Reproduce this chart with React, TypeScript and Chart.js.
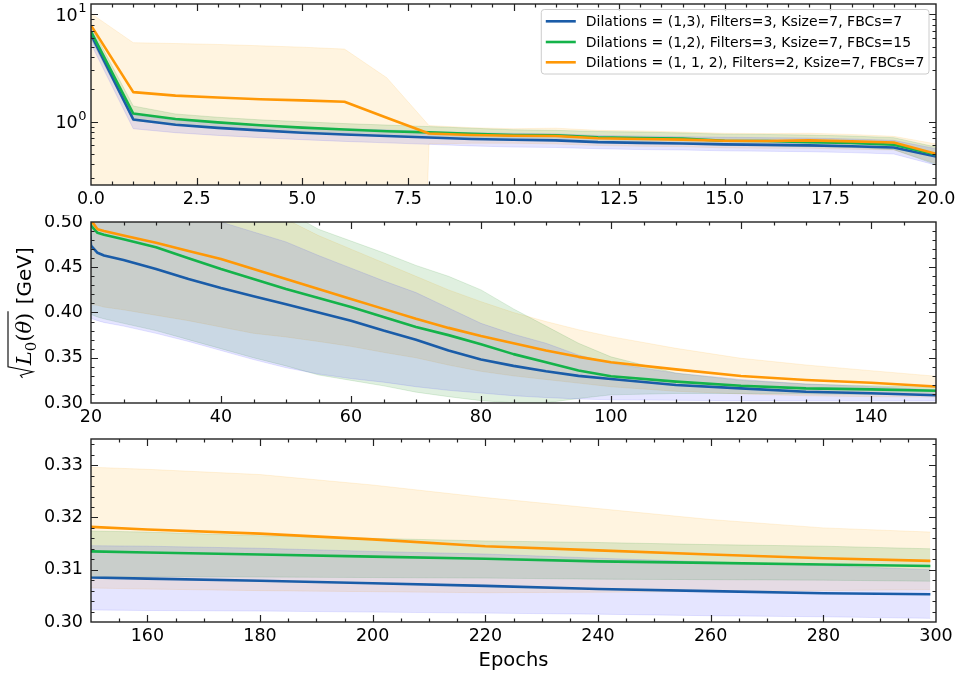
import { useEffect, useRef } from "react";
import { Chart, registerables } from "chart.js";

Chart.register(...registerables);

// Epochs at which the validation loss was recorded
const EPOCHS = [
  0, 1, 2, 3, 4, 5, 6, 7, 8, 9, 10, 11, 12, 13, 14, 15, 16, 17, 18, 19,
  20, 21, 22,
  25, 30, 35, 40, 45, 50, 55, 60, 65, 70, 75, 80, 85, 90, 95, 100,
  110, 120, 130, 140, 150,
  160, 180, 200, 220, 240, 260, 280, 299,
];

// sqrt(L0) in GeV: mean curve and upper / lower edge of the spread band per model
const BLUE_MEAN = [
  6.5, 1.05, 0.935, 0.875, 0.83, 0.79, 0.76, 0.735, 0.712, 0.69, 0.678, 0.67, 0.645, 0.635, 0.627, 0.615, 0.608, 0.602, 0.59, 0.575,
  0.474, 0.466, 0.463,
  0.458, 0.448, 0.437, 0.427, 0.418, 0.409, 0.4, 0.391, 0.38, 0.37, 0.358, 0.348, 0.341, 0.335, 0.33, 0.3265,
  0.3199, 0.3162, 0.3125, 0.3107, 0.3085,
  0.3083, 0.3079, 0.3074, 0.3069, 0.3063, 0.3059, 0.3055, 0.3053,
];
const BLUE_HI = [
  7.4, 1.16, 1.03, 0.97, 0.93, 0.89, 0.86, 0.84, 0.81, 0.79, 0.78, 0.77, 0.745, 0.735, 0.725, 0.715, 0.71, 0.705, 0.69, 0.67,
  0.56, 0.555, 0.552,
  0.545, 0.53, 0.515, 0.5, 0.489, 0.478, 0.463, 0.449, 0.435, 0.422, 0.405, 0.388, 0.376, 0.366, 0.353, 0.344,
  0.333, 0.326, 0.321, 0.318, 0.3146,
  0.3145, 0.3141, 0.3135, 0.313, 0.3122, 0.3115, 0.3108, 0.31,
];
const BLUE_LO = [
  5.3, 0.86, 0.79, 0.745, 0.71, 0.68, 0.655, 0.635, 0.615, 0.595, 0.58, 0.575, 0.56, 0.55, 0.545, 0.535, 0.53, 0.525, 0.515, 0.5,
  0.3936, 0.391, 0.389,
  0.385, 0.377, 0.368, 0.358, 0.348, 0.339, 0.332, 0.327, 0.323, 0.318, 0.314, 0.311, 0.308, 0.306, 0.3045, 0.3035,
  0.303, 0.3026, 0.3025, 0.3024, 0.3023,
  0.3022, 0.3021, 0.3019, 0.3017, 0.3015, 0.3012, 0.301, 0.3007,
];

const GREEN_MEAN = [
  6.9, 1.19, 1.06, 0.985, 0.925, 0.88, 0.845, 0.815, 0.795, 0.77, 0.75, 0.745, 0.715, 0.705, 0.695, 0.665, 0.66, 0.645, 0.635, 0.61,
  0.496, 0.488, 0.486,
  0.481, 0.472, 0.46, 0.448, 0.437, 0.426, 0.416, 0.406, 0.395, 0.384, 0.375, 0.365, 0.354, 0.345, 0.336, 0.3295,
  0.3236, 0.3191, 0.3162, 0.3151, 0.3135,
  0.3133, 0.3129, 0.3125, 0.3121, 0.3116, 0.3113, 0.311, 0.3107,
];
const GREEN_HI = [
  7.8, 1.4, 1.18, 1.1, 1.04, 1.0, 0.96, 0.93, 0.9, 0.87, 0.84, 0.83, 0.81, 0.8, 0.785, 0.765, 0.76, 0.75, 0.735, 0.71,
  0.58, 0.578, 0.576,
  0.572, 0.563, 0.552, 0.54, 0.525, 0.512, 0.492, 0.479, 0.466, 0.452, 0.44, 0.425, 0.404, 0.385, 0.366, 0.351,
  0.333, 0.325, 0.321, 0.319, 0.3174,
  0.3172, 0.3165, 0.316, 0.3155, 0.3152, 0.3148, 0.3145, 0.314,
];
const GREEN_LO = [
  5.9, 1.02, 0.95, 0.88, 0.83, 0.79, 0.76, 0.73, 0.71, 0.69, 0.67, 0.665, 0.64, 0.63, 0.62, 0.6, 0.595, 0.585, 0.575, 0.55,
  0.398, 0.395, 0.393,
  0.388, 0.38, 0.37, 0.36, 0.35, 0.341, 0.331, 0.325, 0.319, 0.312, 0.307, 0.3026, 0.3003, 0.3003, 0.305, 0.309,
  0.3105, 0.3105, 0.31, 0.3095, 0.3087,
  0.3087, 0.3086, 0.3085, 0.3084, 0.3082, 0.3081, 0.308, 0.3078,
];

const ORANGE_MEAN = [
  7.9, 1.885, 1.75, 1.68, 1.62, 1.58, 1.535, 1.09, 0.775, 0.752, 0.74, 0.735, 0.7, 0.69, 0.68, 0.665, 0.66, 0.67, 0.655, 0.64,
  0.502, 0.492, 0.49,
  0.485, 0.477, 0.468, 0.459, 0.448, 0.437, 0.426, 0.415, 0.404, 0.393, 0.383, 0.374, 0.366, 0.358, 0.351, 0.345,
  0.3372, 0.3298, 0.3254, 0.3224, 0.3182,
  0.3177, 0.3169, 0.3158, 0.3145, 0.3137, 0.3129, 0.3122, 0.3117,
];
const ORANGE_HI = [
  10.2, 5.45, 5.35, 5.25, 5.1, 4.95, 4.75, 2.57, 0.92, 0.88, 0.86, 0.87, 0.83, 0.82, 0.8, 0.78, 0.775, 0.78, 0.76, 0.73,
  0.62, 0.61, 0.605,
  0.598, 0.585, 0.567, 0.55, 0.53, 0.503, 0.485, 0.47, 0.455, 0.44, 0.425, 0.412, 0.4, 0.39, 0.381, 0.3733,
  0.3604, 0.3494, 0.342, 0.3357, 0.3296,
  0.3292, 0.3282, 0.3262, 0.3238, 0.3217, 0.3196, 0.318, 0.3172,
];
// the lower edge is non-positive during the first epochs
const ORANGE_LO = [
  0, 0, 0, 0, 0, 0, 0, 0, 0.62, 0.63, 0.63, 0.62, 0.6, 0.59, 0.585, 0.57, 0.565, 0.565, 0.555, 0.545,
  0.409, 0.408, 0.406,
  0.403, 0.397, 0.391, 0.384, 0.377, 0.373, 0.368, 0.3626, 0.356, 0.35, 0.342, 0.335, 0.33, 0.326, 0.322, 0.318,
  0.313, 0.31, 0.308, 0.307, 0.3065,
  0.3063, 0.306, 0.3058, 0.3056, 0.3057, 0.3058, 0.306, 0.3062,
];

const LEGEND_LABELS = [
  "Dilations = (1,3), Filters=3, Ksize=7, FBCs=7",
  "Dilations = (1,2), Filters=3, Ksize=7, FBCs=15",
  "Dilations = (1, 1, 2), Filters=2, Ksize=7, FBCs=7",
];

// Tick labels of the three panels
const TOP_X_TICKS = [0, 2.5, 5, 7.5, 10, 12.5, 15, 17.5, 20];
const TOP_Y_TICKS = [1, 10];
const MID_X_TICKS = [20, 40, 60, 80, 100, 120, 140];
const MID_Y_TICKS = [0.3, 0.35, 0.4, 0.45, 0.5];
const BOT_X_TICKS = [160, 180, 200, 220, 240, 260, 280, 300];
const BOT_Y_TICKS = [0.3, 0.31, 0.32, 0.33];

const X_TITLE = "Epochs";

const SERIES = [
  { label: LEGEND_LABELS[0], color: "#1a5ca8", band: "rgba(0,0,255,0.10)", edge: "rgba(0,0,255,0.10)", mean: BLUE_MEAN, hi: BLUE_HI, lo: BLUE_LO, z: 3 },
  { label: LEGEND_LABELS[1], color: "#14b34a", band: "rgba(0,128,0,0.12)", edge: "rgba(0,128,0,0.12)", mean: GREEN_MEAN, hi: GREEN_HI, lo: GREEN_LO, z: 2 },
  { label: LEGEND_LABELS[2], color: "#ff9806", band: "rgba(255,165,0,0.12)", edge: "rgba(255,165,0,0.12)", mean: ORANGE_MEAN, hi: ORANGE_HI, lo: ORANGE_LO, z: 1 },
];

const W = 962;
const AXIS_COLOR = "#222";
const TEXT_COLOR = "#000";
const TICK_FONT = '17.5px "DejaVu Sans"';

function stepTicks(min: number, max: number, step: number) {
  const out: number[] = [];
  for (let i = Math.ceil(min / step - 1e-9); i * step <= max + 1e-9; i++) out.push(+(i * step).toFixed(6));
  return out;
}

function logMinor(min: number, max: number) {
  const out: number[] = [];
  for (let k = -2; k <= 2; k++) {
    for (let m = 2; m <= 9; m++) {
      const v = m * Math.pow(10, k);
      if (v >= min && v <= max) out.push(v);
    }
  }
  return out;
}

type Panel = {
  key: string;
  top: number;
  height: number;
  area: { left: number; right: number; top: number; bottom: number };
  xMin: number;
  xMax: number;
  xTicks: number[];
  xMinor: number[];
  xFmt: (v: number) => string;
  log: boolean;
  yMin: number;
  yMax: number;
  yTicks: number[];
  yMinor: number[];
  yFmt: (v: number) => string;
  legend?: boolean;
  yTitle?: boolean;
  xTitle?: string;
};

const PANELS: Panel[] = [
  {
    key: "early",
    top: 0,
    height: 215,
    area: { left: 91, right: 936, top: 4, bottom: 185 },
    xMin: 0,
    xMax: 20,
    xTicks: TOP_X_TICKS,
    xMinor: stepTicks(0, 20, 0.5),
    xFmt: (v) => v.toFixed(1),
    log: true,
    yMin: 0.257,
    yMax: 12.5,
    yTicks: TOP_Y_TICKS,
    yMinor: logMinor(0.257, 12.5),
    yFmt: (v) => String(Math.round(Math.log10(v))),
    legend: true,
  },
  {
    key: "mid",
    top: 215,
    height: 215,
    area: { left: 91, right: 936, top: 7, bottom: 188 },
    xMin: 20,
    xMax: 150,
    xTicks: MID_X_TICKS,
    xMinor: stepTicks(20, 150, 5),
    xFmt: (v) => String(v),
    log: false,
    yMin: 0.3,
    yMax: 0.5,
    yTicks: MID_Y_TICKS,
    yMinor: stepTicks(0.3, 0.5, 0.01),
    yFmt: (v) => v.toFixed(2),
    yTitle: true,
  },
  {
    key: "late",
    top: 430,
    height: 243,
    area: { left: 91, right: 936, top: 9, bottom: 192 },
    xMin: 150,
    xMax: 300,
    xTicks: BOT_X_TICKS,
    xMinor: stepTicks(150, 300, 5),
    xFmt: (v) => String(v),
    log: false,
    yMin: 0.3,
    yMax: 0.335,
    yTicks: BOT_Y_TICKS,
    yMinor: stepTicks(0.3, 0.335, 0.002),
    yFmt: (v) => v.toFixed(2),
    xTitle: X_TITLE,
  },
];

function buildDatasets(log: boolean) {
  // on a log axis non-positive values are clipped to a tiny positive number
  const pts = (vals: number[]) =>
    EPOCHS.map((e, i) => ({ x: e, y: log && vals[i] <= 0 ? 1e-12 : vals[i] }));
  const ds: any[] = [];
  SERIES.forEach((s) => {
    ds.push({
      label: s.label + " upper",
      data: pts(s.hi),
      borderColor: s.edge,
      borderWidth: 1,
      backgroundColor: s.band,
      fill: "+1",
      pointRadius: 0,
      tension: 0,
      order: 10,
    });
    ds.push({
      label: s.label + " lower",
      data: pts(s.lo),
      borderColor: s.edge,
      borderWidth: 1,
      backgroundColor: s.band,
      fill: false,
      pointRadius: 0,
      tension: 0,
      order: 10,
    });
  });
  SERIES.forEach((s) => {
    ds.push({
      label: s.label,
      data: pts(s.mean),
      borderColor: s.color,
      borderWidth: 2.6,
      fill: false,
      pointRadius: 0,
      tension: 0,
      order: s.z,
    });
  });
  return ds;
}

function near(a: number, list: number[]) {
  return list.some((b) => Math.abs(a - b) < 1e-9);
}

function drawLegend(ctx: CanvasRenderingContext2D) {
  ctx.save();
  ctx.font = '14px "DejaVu Sans"';
  const maxW = Math.max(...SERIES.map((s) => ctx.measureText(s.label).width));
  const right = 929;
  const textX = right - 4.5 - maxW;
  const lineX0 = textX - 40;
  const left = lineX0 - 4.5;
  const top = 9.5;
  const bottom = 74;
  const r = 3;
  ctx.beginPath();
  ctx.moveTo(left + r, top);
  ctx.lineTo(right - r, top);
  ctx.quadraticCurveTo(right, top, right, top + r);
  ctx.lineTo(right, bottom - r);
  ctx.quadraticCurveTo(right, bottom, right - r, bottom);
  ctx.lineTo(left + r, bottom);
  ctx.quadraticCurveTo(left, bottom, left, bottom - r);
  ctx.lineTo(left, top + r);
  ctx.quadraticCurveTo(left, top, left + r, top);
  ctx.closePath();
  ctx.fillStyle = "rgba(255,255,255,0.8)";
  ctx.fill();
  ctx.strokeStyle = "#cccccc";
  ctx.lineWidth = 1;
  ctx.stroke();
  const rows = [21.3, 42, 62.3];
  SERIES.forEach((s, i) => {
    ctx.beginPath();
    ctx.moveTo(lineX0, rows[i]);
    ctx.lineTo(lineX0 + 30, rows[i]);
    ctx.strokeStyle = s.color;
    ctx.lineWidth = 2.6;
    ctx.stroke();
    ctx.fillStyle = TEXT_COLOR;
    ctx.textAlign = "left";
    ctx.textBaseline = "middle";
    ctx.fillText(s.label, textX, rows[i] + 1);
  });
  ctx.restore();
}

function drawYTitle(ctx: CanvasRenderingContext2D, baseX: number, cy: number) {
  const fMath = 'italic 21px "DejaVu Serif"';
  const fRoman = '21px "DejaVu Serif"';
  const fSub = '15px "DejaVu Serif"';
  const fText = '20px "DejaVu Sans"';
  const parts = [
    { t: "L", f: fMath, dy: 0 },
    { t: "0", f: fSub, dy: 4.5 },
    { t: "(", f: fRoman, dy: 0 },
    { t: "θ", f: fMath, dy: 0 },
    { t: ")", f: fRoman, dy: 0 },
  ];
  ctx.save();
  const widths = parts.map((p) => {
    ctx.font = p.f;
    return ctx.measureText(p.t).width;
  });
  const contentW = widths.reduce((a, b) => a + b, 0) + 3;
  ctx.font = fText;
  const unit = "[GeV]";
  const unitW = ctx.measureText(unit).width;
  const radW = 11;
  const gap = 7;
  const total = radW + contentW + gap + unitW;
  ctx.translate(baseX, cy + total / 2);
  ctx.rotate(-Math.PI / 2);
  ctx.strokeStyle = TEXT_COLOR;
  ctx.fillStyle = TEXT_COLOR;
  ctx.lineWidth = 1.1;
  ctx.beginPath();
  ctx.moveTo(0, -8.5);
  ctx.lineTo(2.5, -10.5);
  ctx.lineTo(6, 2);
  ctx.lineTo(radW, -23);
  ctx.lineTo(radW + contentW, -23);
  ctx.stroke();
  ctx.textAlign = "left";
  ctx.textBaseline = "alphabetic";
  let u = radW + 1.5;
  parts.forEach((p, i) => {
    ctx.font = p.f;
    ctx.fillText(p.t, u, p.dy);
    u += widths[i];
  });
  ctx.font = fText;
  ctx.fillText(unit, radW + contentW + gap, 0);
  ctx.restore();
}

function decorPlugin(p: Panel) {
  return {
    id: "axesDecor",
    afterDraw(chart: any) {
      const ctx: CanvasRenderingContext2D = chart.ctx;
      const a = chart.chartArea;
      const xs = chart.scales.x;
      const ys = chart.scales.y;
      ctx.save();

      // tick marks pointing inwards on all four sides
      ctx.strokeStyle = AXIS_COLOR;
      ctx.lineWidth = 1.2;
      const majLen = 7;
      const minLen = 3.5;
      ctx.beginPath();
      const xMarks = [
        ...p.xTicks.map((v) => [v, majLen]),
        ...p.xMinor.filter((v) => !near(v, p.xTicks)).map((v) => [v, minLen]),
      ];
      xMarks.forEach(([v, len]) => {
        const px = Math.round(xs.getPixelForValue(v)) + 0.5;
        if (px <= a.left + 0.6 || px >= a.right - 0.6) return;
        ctx.moveTo(px, a.bottom);
        ctx.lineTo(px, a.bottom - len);
        ctx.moveTo(px, a.top);
        ctx.lineTo(px, a.top + len);
      });
      const yMarks = [
        ...p.yTicks.map((v) => [v, majLen]),
        ...p.yMinor.filter((v) => !near(v, p.yTicks)).map((v) => [v, minLen]),
      ];
      yMarks.forEach(([v, len]) => {
        const py = Math.round(ys.getPixelForValue(v)) + 0.5;
        if (py <= a.top + 0.6 || py >= a.bottom - 0.6) return;
        ctx.moveTo(a.left, py);
        ctx.lineTo(a.left + len, py);
        ctx.moveTo(a.right, py);
        ctx.lineTo(a.right - len, py);
      });
      ctx.stroke();

      // frame
      ctx.lineWidth = 1.4;
      ctx.strokeRect(a.left, a.top, a.right - a.left, a.bottom - a.top);

      // tick labels
      ctx.fillStyle = TEXT_COLOR;
      ctx.font = TICK_FONT;
      ctx.textAlign = "center";
      ctx.textBaseline = "alphabetic";
      p.xTicks.forEach((v) => {
        ctx.fillText(p.xFmt(v), xs.getPixelForValue(v), a.bottom + 18.5);
      });
      if (p.log) {
        p.yTicks.forEach((v) => {
          const py = ys.getPixelForValue(v);
          const exp = p.yFmt(v);
          ctx.font = '13px "DejaVu Sans"';
          ctx.textAlign = "right";
          const supRight = a.left - 4.5;
          const supW = ctx.measureText(exp).width;
          ctx.fillText(exp, supRight, py - 2);
          ctx.font = TICK_FONT;
          ctx.fillText("10", supRight - supW - 0.5, py + 6.5);
        });
      } else {
        ctx.textAlign = "right";
        ctx.textBaseline = "middle";
        p.yTicks.forEach((v) => {
          ctx.fillText(p.yFmt(v), a.left - 8, ys.getPixelForValue(v));
        });
      }

      if (p.xTitle) {
        ctx.font = '19.5px "DejaVu Sans"';
        ctx.textAlign = "center";
        ctx.textBaseline = "alphabetic";
        ctx.fillText(p.xTitle, (a.left + a.right) / 2, a.bottom + 44);
      }
      ctx.restore();

      if (p.legend) drawLegend(ctx);
      if (p.yTitle) drawYTitle(ctx, 31, (a.top + a.bottom) / 2);
    },
  };
}

function LossPanel({ panel }: { panel: Panel }) {
  const ref = useRef<HTMLCanvasElement>(null);
  useEffect(() => {
    const p = panel;
    const chart = new Chart(ref.current as HTMLCanvasElement, {
      type: "line",
      data: { datasets: buildDatasets(p.log) },
      options: {
        animation: false,
        responsive: false,
        devicePixelRatio: 1,
        events: [],
        layout: {
          padding: {
            left: p.area.left,
            right: W - p.area.right,
            top: p.area.top,
            bottom: p.height - p.area.bottom,
          },
        },
        scales: {
          x: { type: "linear", min: p.xMin, max: p.xMax, display: false },
          y: { type: p.log ? "logarithmic" : "linear", min: p.yMin, max: p.yMax, display: false },
        },
        plugins: { legend: { display: false }, tooltip: { enabled: false } },
        elements: { line: { borderJoinStyle: "round", borderCapStyle: "butt" } },
      } as any,
      plugins: [decorPlugin(p)],
    });
    return () => chart.destroy();
  }, [panel]);
  return (
    <canvas
      ref={ref}
      width={W}
      height={panel.height}
      style={{ position: "absolute", left: 0, top: panel.top, width: W, height: panel.height }}
    />
  );
}

export default function App() {
  return (
    <div style={{ position: "absolute", left: 0, top: 0, width: W, height: 673, background: "#fff" }}>
      {PANELS.map((p) => (
        <LossPanel key={p.key} panel={p} />
      ))}
    </div>
  );
}
